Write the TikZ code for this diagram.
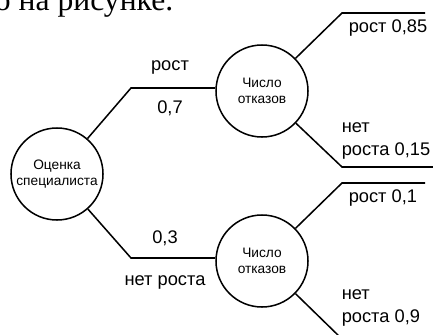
\documentclass[tikz,border=0pt]{standalone}
\usepackage{fontspec}
\setmainfont{Liberation Sans}
\newfontfamily\bodyserif{Liberation Serif}
\usepackage{tikz}
\usetikzlibrary{positioning,calc}

\begin{document}
\begin{tikzpicture}[
            x=0.03cm, y=-0.03cm,
            line width=1.3pt,
            event node/.style={circle,draw,minimum size=2.76cm,inner sep=0pt,align=center,font=\fontsize{11.7}{14}\selectfont},
            branch label/.style={font=\fontsize{15.6}{19}\selectfont,inner sep=0pt},
            outcome label/.style={branch label,anchor=west,align=left}
        ]
            \useasboundingbox (0,0) rectangle (433,334);
            \clip (0,0) rectangle (433,334);

            % cut-off line of the page text above the figure
            \node[anchor=base east,inner sep=0pt,font=\bodyserif\fontsize{27}{30}\selectfont] (pagetext) at (174,10) {о на рисунке.};

            \node[event node] (expert) at (57,174) {Оценка\\специалиста};
            \node[event node] (failsup) at (262,91) {Число\\отказов};
            \node[event node] (failsdown) at (262,261) {Число\\отказов};

            \coordinate (growth) at (131,88);
            \coordinate (nogrowth) at (131,258);
            \coordinate (upgrow) at (342,13);
            \coordinate (upgrowend) at (425,13);
            \coordinate (upnogrow) at (342,167);
            \coordinate (upnogrowend) at (433,167);
            \coordinate (downgrow) at (342,183);
            \coordinate (downgrowend) at (425,183);
            \coordinate (downnogrow) at (342,339);
            \coordinate (downnogrowend) at (433,339);

            \draw (expert) -- (growth) -- (growth -| failsup.west);
            \draw (expert) -- (nogrowth) -- (nogrowth -| failsdown.west);
            \draw (failsup) -- (upgrow) -- (upgrowend);
            \draw (failsup) -- (upnogrow) -- (upnogrowend);
            \draw (failsdown) -- (downgrow) -- (downgrowend);
            \draw (failsdown) -- (downnogrow) -- (downnogrowend);

            \node[branch label] (growthtext) at (170,67) {рост};
            \node[branch label] (growthprob) at (170,108) {0,7};
            \node[branch label] (nogrowthprob) at (165,238) {0,3};
            \node[branch label] (nogrowthtext) at (165,282) {нет роста};

            \node[outcome label] (upgrowtext) at (348,28) {рост 0,85};
            \node[outcome label] (upnogrowtext) at (341,141) {нет\\роста 0,15};
            \node[outcome label] (downgrowtext) at (348,198) {рост 0,1};
            \node[outcome label] (downnogrowtext) at (341,308) {нет\\роста 0,9};
        \end{tikzpicture}
\end{document}
